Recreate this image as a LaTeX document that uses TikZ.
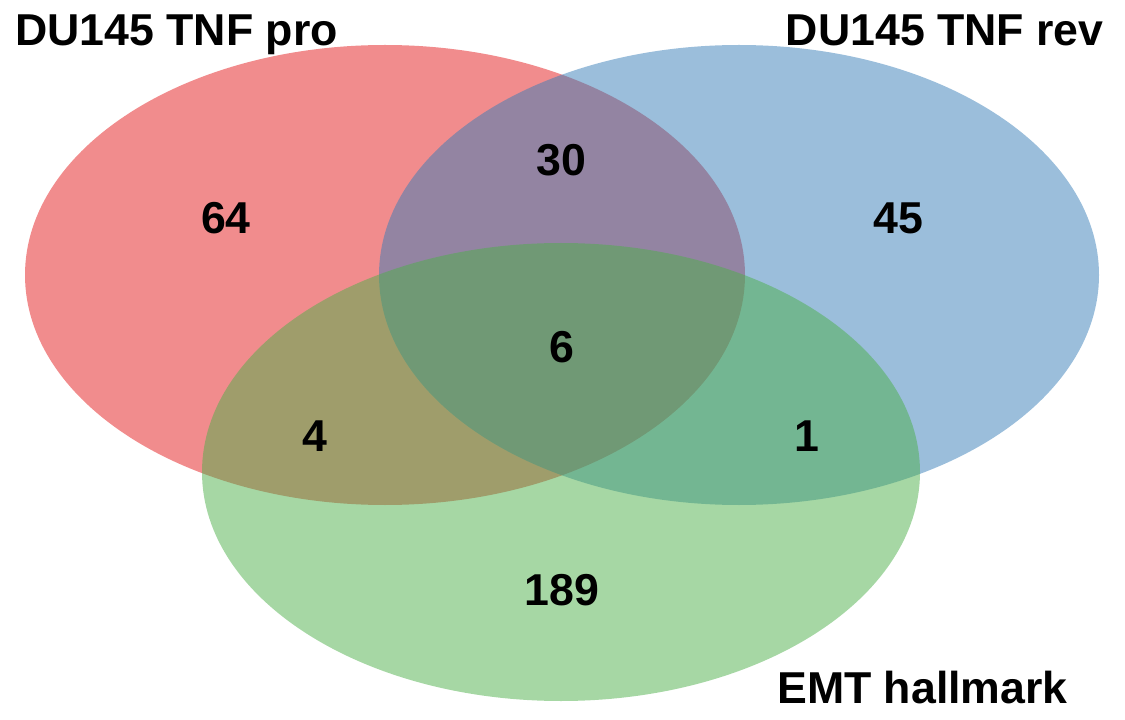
\documentclass[tikz,border=0pt]{standalone}
\usepackage{fontspec}
\setmainfont{Liberation Sans}
\definecolor{setred}{RGB}{228,26,28}
\definecolor{setblue}{RGB}{55,126,184}
\definecolor{setgreen}{RGB}{77,175,74}
\begin{document}
\begin{tikzpicture}[x=0.75pt,y=-0.75pt,
  setshape/.style={fill opacity=0.5},
  lab/.style={inner sep=0pt,font=\fontsize{33.5}{38}\selectfont\bfseries},
  num/.style={inner sep=0pt,font=\fontsize{33.5}{38}\selectfont\bfseries}]
\useasboundingbox (0,0) rectangle (1125,720);
\fill[setred,setshape] (385,275) ellipse [x radius=360,y radius=230];
\fill[setblue,setshape] (739,275) ellipse [x radius=360,y radius=230];
\fill[setgreen,setshape] (561,472) ellipse [x radius=359,y radius=229];
\node[lab,anchor=base west] (lpro) at (15,46) {DU145 TNF pro};
\node[lab,anchor=base east] (lrev) at (1104,46) {DU145 TNF rev};
\node[lab,anchor=base east] (lemt) at (1068,703) {EMT hallmark};
\node[num] (n64) at (226,218) {64};
\node[num] (n30) at (561.5,160) {30};
\node[num] (n45) at (898,218) {45};
\node[num] (n6) at (562,347) {6};
\node[num] (n4) at (315,436) {4};
\node[num] (n1) at (807,436) {1};
\node[num] (n189) at (562,590) {189};
\end{tikzpicture}
\end{document}
